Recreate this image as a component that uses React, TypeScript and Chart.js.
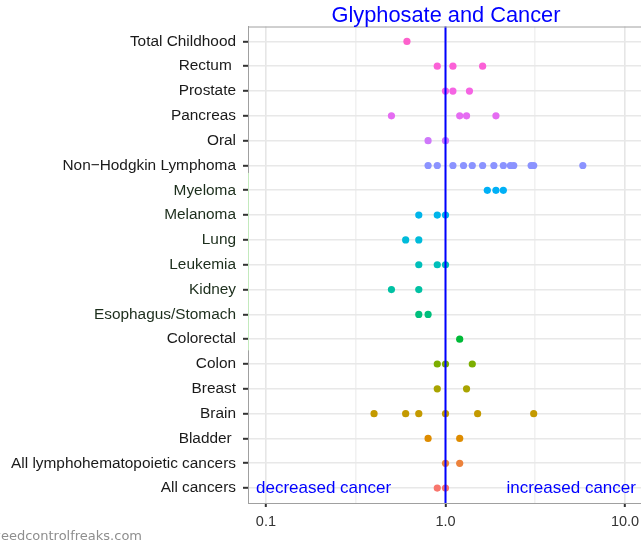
import React, { useEffect, useRef } from 'react';
import { Chart, registerables } from 'chart.js';

Chart.register(...registerables);

// ---- Data ----
const categories = [
  'Total Childhood',
  'Rectum ',
  'Prostate',
  'Pancreas',
  'Oral',
  'Non\u2212Hodgkin Lymphoma',
  'Myeloma',
  'Melanoma',
  'Lung',
  'Leukemia',
  'Kidney',
  'Esophagus/Stomach',
  'Colorectal',
  'Colon',
  'Breast',
  'Brain',
  'Bladder ',
  'All lymphohematopoietic cancers',
  'All cancers',
];

const totalChildhood = [0.61];
const rectum = [0.9, 1.1, 1.61];
const prostate = [1.0, 1.1, 1.36];
const pancreas = [0.5, 1.2, 1.31, 1.91];
const oral = [0.8, 1.0];
const nonHodgkin = [0.8, 0.9, 1.1, 1.26, 1.41, 1.61, 1.86, 2.1, 2.3, 2.4, 3.0, 3.1, 5.82];
const myeloma = [1.71, 1.91, 2.1];
const melanoma = [0.71, 0.9, 1.0];
const lung = [0.6, 0.71];
const leukemia = [0.71, 0.9, 1.0];
const kidney = [0.5, 0.71];
const esophagusStomach = [0.71, 0.8];
const colorectal = [1.2];
const colon = [0.9, 1.0, 1.41];
const breast = [0.9, 1.31];
const brain = [0.4, 0.6, 0.71, 1.0, 1.51, 3.1];
const bladder = [0.8, 1.2];
const allLympho = [1.0, 1.2];
const allCancers = [0.9, 1.0];

const seriesValues = [
  totalChildhood, rectum, prostate, pancreas, oral, nonHodgkin, myeloma, melanoma,
  lung, leukemia, kidney, esophagusStomach, colorectal, colon, breast, brain,
  bladder, allLympho, allCancers,
];

const seriesColors = [
  '#FD61CC', '#FB61D7', '#F564E3', '#E56CF2', '#CF78FA', '#8B93FF', '#00B0F6', '#00B5EA',
  '#00BBDA', '#00BFBA', '#00C1A3', '#00BF7D', '#00BA38', '#7CAE00', '#A9A400', '#C49A00',
  '#DE8C00', '#EC823C', '#F8766D',
];

const xTickValues = [0.1, Math.pow(10, -0.5), 1, Math.pow(10, 0.5), 10];
const xTickLabels = ['0.1', '', '1.0', '', '10.0'];
const xMajor = [true, false, true, false, true];

const titleText = 'Glyphosate and Cancer';
const leftNote = 'decreased cancer';
const rightNote = 'increased cancer';
const leftNoteX = 0.088;
const rightNoteX = 11.5;
const watermark = 'weedcontrolfreaks.com';

const FONT = "'Liberation Sans', Arial, sans-serif";

const decorPlugin = {
  id: 'decor',
  afterDatasetsDraw(chart: any) {
    const { ctx, chartArea, scales } = chart;
    const xs = scales.x;
    ctx.save();
    // reference line at 1
    const x1 = xs.getPixelForValue(1);
    ctx.strokeStyle = '#0000FF';
    ctx.lineWidth = 2;
    ctx.beginPath();
    ctx.moveTo(x1, chartArea.top);
    ctx.lineTo(x1, chartArea.bottom);
    ctx.stroke();
    ctx.restore();
  },
  afterDraw(chart: any) {
    const { ctx, chartArea, scales } = chart;
    const xs = scales.x;
    const ys = scales.y;
    ctx.save();
    // top border
    ctx.strokeStyle = '#A0A0A0';
    ctx.lineWidth = 1;
    ctx.beginPath();
    ctx.moveTo(chartArea.left, chartArea.top + 0.5);
    ctx.lineTo(chartArea.right, chartArea.top + 0.5);
    ctx.stroke();
    // greenish segment of left border
    ctx.strokeStyle = '#C3EABD';
    ctx.beginPath();
    ctx.moveTo(chartArea.left + 0.5, ys.getPixelForValue(5.3));
    ctx.lineTo(chartArea.left + 0.5, ys.getPixelForValue(12.45));
    ctx.stroke();

    // title
    ctx.fillStyle = '#0000FF';
    ctx.font = `21.8px ${FONT}`;
    ctx.textAlign = 'center';
    ctx.textBaseline = 'middle';
    ctx.fillText(titleText, (chartArea.left + chartArea.right) / 2 + 1.5, 16);

    // notes
    const yLast = ys.getPixelForValue(categories.length - 1);
    ctx.font = `17px ${FONT}`;
    ctx.textAlign = 'left';
    ctx.fillText(leftNote, xs.getPixelForValue(leftNoteX), yLast);
    ctx.textAlign = 'right';
    ctx.fillText(rightNote, xs.getPixelForValue(rightNoteX), yLast);

    // watermark
    ctx.fillStyle = '#8E8E8E';
    ctx.font = "13px 'DejaVu Sans', sans-serif";
    ctx.textAlign = 'right';
    ctx.textBaseline = 'alphabetic';
    ctx.fillText(watermark, 142, 540);
    ctx.restore();
  },
};

export default function App() {
  const canvasRef = useRef<HTMLCanvasElement | null>(null);

  useEffect(() => {
    document.body.style.margin = '0';
    const canvas = canvasRef.current;
    if (!canvas) return;

    const datasets = seriesValues.map((vals, i) => ({
      label: categories[i],
      data: vals.map((v) => ({ x: v, y: i })),
      backgroundColor: seriesColors[i],
      borderColor: seriesColors[i],
      pointRadius: 3.6,
      pointBorderWidth: 0,
      showLine: false,
    }));

    const chart = new Chart(canvas, {
      type: 'scatter',
      data: { datasets },
      options: {
        animation: false,
        responsive: false,
        maintainAspectRatio: false,
        layout: { autoPadding: false, padding: { top: 26.5, right: 0, left: 0, bottom: 0 } },
        plugins: {
          legend: { display: false },
          tooltip: { enabled: false },
          title: { display: false },
        },
        scales: {
          x: {
            type: 'logarithmic',
            min: Math.pow(10, -1.1),
            max: Math.pow(10, 1.089),
            afterBuildTicks: (s: any) => {
              s.ticks = xTickValues.map((v) => ({ value: v }));
            },
            afterFit: (s: any) => {
              s.height = 42;
              s.paddingLeft = 0;
              s.paddingRight = 0;
            },
            ticks: {
              autoSkip: false,
              maxRotation: 0,
              minRotation: 0,
              padding: 6,
              color: '#333333',
              font: { family: FONT, size: 14.5 },
              callback: (_v: any, idx: number) => xTickLabels[idx],
            },
            grid: {
              color: (c: any) => (xMajor[c.index] ? '#E6E6E6' : '#F1F1F1'),
              lineWidth: 1.6,
              tickLength: 4,
              tickWidth: 2,
              tickColor: (c: any) => (xMajor[c.index] ? '#333333' : 'rgba(0,0,0,0)'),
            },
            border: { display: true, color: '#A0A0A0', width: 1 },
          },
          y: {
            type: 'linear',
            reverse: true,
            min: -0.6,
            max: categories.length - 1 + 0.6,
            afterBuildTicks: (s: any) => {
              s.ticks = categories.map((_c, i) => ({ value: i }));
            },
            afterFit: (s: any) => {
              s.width = 248;
              s.paddingTop = 0;
              s.paddingBottom = 0;
            },
            ticks: {
              autoSkip: false,
              padding: 7,
              color: (c: any) => (c.index >= 6 && c.index <= 11 ? '#1C2E1C' : '#1A1A1A'),
              font: { family: FONT, size: 15.4 },
              callback: (_v: any, idx: number) => categories[idx],
            },
            grid: {
              color: '#E8E8E8',
              lineWidth: 1.6,
              tickLength: 5,
              tickWidth: 2,
              tickColor: '#333333',
            },
            border: { display: true, color: '#A0A0A0', width: 1 },
          },
        },
      },
      plugins: [decorPlugin],
    } as any);

    return () => {
      chart.destroy();
    };
  }, []);

  return (
    <div style={{ width: 641, height: 545, position: 'relative' }}>
      <canvas ref={canvasRef} width={641} height={545} style={{ display: 'block' }} />
    </div>
  );
}
